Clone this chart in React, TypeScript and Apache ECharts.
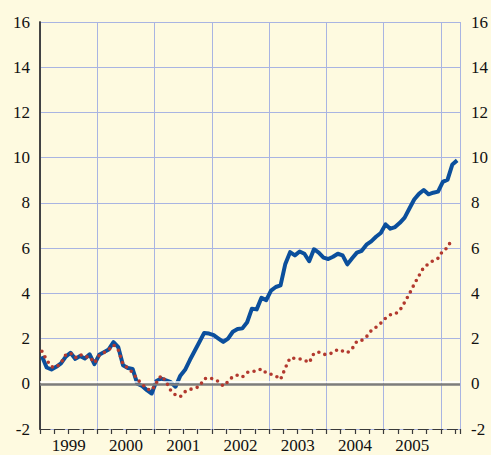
import React, { useEffect, useRef } from 'react';
import * as echarts from 'echarts';

// Year labels (centered in each year)
const years = ['1999', '2000', '2001', '2002', '2003', '2004', '2005'];
// Monthly values from Jan 1999
const blueValues = [
  1.22, 0.72, 0.63, 0.75, 0.9, 1.2, 1.37, 1.1, 1.23, 1.12, 1.3, 0.87,
  1.28, 1.4, 1.52, 1.84, 1.62, 0.82, 0.7, 0.66, 0.0, -0.1, -0.28, -0.43,
  0.12, 0.23, 0.15, 0.07, -0.13, 0.36, 0.62, 1.05, 1.45, 1.85, 2.25, 2.22,
  2.15, 2.0, 1.85, 2.0, 2.3, 2.42, 2.45, 2.72, 3.32, 3.29, 3.8, 3.7,
  4.12, 4.28, 4.35, 5.3, 5.82, 5.68, 5.85, 5.75, 5.42, 5.95, 5.8, 5.58,
  5.52, 5.62, 5.75, 5.68, 5.28, 5.55, 5.8, 5.88, 6.15, 6.3, 6.5, 6.67,
  7.05, 6.86, 6.93, 7.12, 7.35, 7.75, 8.15, 8.4, 8.57, 8.38, 8.45, 8.5,
  8.93, 9.03, 9.7, 9.88,
];
const redValues = [
  1.44, 1.05, 0.75, 0.73, 0.92, 1.28, 1.35, 1.15, 1.3, 1.18, 1.2, 0.92,
  1.25, 1.38, 1.5, 1.72, 1.5, 0.85, 0.7, 0.5, 0.2, -0.02, -0.22, -0.3,
  0.05, 0.37, 0.1, -0.3, -0.5, -0.57, -0.35, -0.25, -0.2, -0.12, 0.22, 0.27,
  0.2, 0.1, -0.1, 0.1, 0.32, 0.38, 0.3, 0.5, 0.55, 0.56, 0.66, 0.48,
  0.42, 0.35, 0.19, 0.7, 1.15, 1.12, 1.1, 1.05, 0.93, 1.35, 1.4, 1.3,
  1.3, 1.38, 1.52, 1.45, 1.37, 1.55, 1.88, 1.92, 2.08, 2.35, 2.5, 2.68,
  2.9, 3.05, 3.08, 3.25, 3.6, 3.98, 4.4, 4.78, 5.15, 5.3, 5.45, 5.55,
  5.88, 6.02, 6.45,
];
const yMin = -2;
const yMax = 16;
const yStep = 2;
const monthsShown = 88;

export default function App() {
  const ref = useRef<HTMLDivElement>(null);
  useEffect(() => {
    const chart = echarts.init(ref.current!, null, { renderer: 'svg' });
    const off = 0.4;
    const blueData = blueValues.map((v, i) => [i + off, v]);
    const redData = redValues.map((v, i) => [i + off, v]);
    const axisColor = '#3a3a3a';
    const gridColor = '#a9b4e2';
    const labelStyle = { fontSize: 17, color: '#111111', fontFamily: 'serif' };
    chart.setOption({
      animation: false,
      backgroundColor: '#fefae0',
      grid: { left: 40, right: 24, top: 22, bottom: 26, containLabel: false },
      xAxis: [
        {
          type: 'value', min: 0, max: monthsShown, interval: 3, position: 'bottom',
          axisLine: { show: true, onZero: false, lineStyle: { color: axisColor, width: 1.2, type: [10, 4.55] } },
          axisTick: { show: true, length: 5, lineStyle: { color: axisColor, width: 1.2 } },
          axisLabel: { show: false },
          splitLine: { show: false },
        },
        {
          type: 'value', min: 0, max: monthsShown, interval: 12, position: 'bottom',
          axisLine: { show: false }, axisTick: { show: false }, axisLabel: { show: false },
          splitLine: { show: true, lineStyle: { color: gridColor, width: 1 } },
        },
        {
          type: 'value', min: 0, max: monthsShown, interval: 6, position: 'bottom',
          axisLine: { show: false }, axisTick: { show: false }, splitLine: { show: false },
          axisLabel: {
            show: true, margin: 8, ...labelStyle,
            formatter: (v: number) => {
              const k = (v - 6) / 12;
              return Number.isInteger(k) && k >= 0 && k < years.length ? years[k] : '';
            },
          },
        },
      ],
      yAxis: [
        {
          type: 'value', min: yMin, max: yMax, interval: yStep, position: 'left',
          axisLine: { show: true, lineStyle: { color: axisColor, width: 1.5 } },
          axisTick: { show: false },
          axisLabel: { margin: 10, ...labelStyle },
          splitLine: { show: true, lineStyle: { color: gridColor, width: 1 } },
        },
        {
          type: 'value', min: yMin, max: yMax, interval: yStep, position: 'right',
          axisLine: { show: true, lineStyle: { color: axisColor, width: 1.5 } },
          axisTick: { show: false },
          axisLabel: { margin: 11, ...labelStyle },
          splitLine: { show: false },
        },
      ],
      series: [
        {
          type: 'line', xAxisIndex: 1, yAxisIndex: 0, data: [], z: 1,
          markLine: {
            silent: true, symbol: 'none', label: { show: false },
            data: [
              { yAxis: 0.09, lineStyle: { color: '#ffffff', width: 1.6, type: 'solid' } },
              { yAxis: 0, lineStyle: { color: '#7d7d7d', width: 2.5, type: 'solid' } },
            ],
          },
        },
        {
          type: 'line', xAxisIndex: 0, yAxisIndex: 0, data: blueData, symbol: 'none', z: 4,
          lineStyle: { color: '#0b4f9c', width: 4, join: 'round' },
        },
        {
          type: 'line', xAxisIndex: 0, yAxisIndex: 0, data: redData, symbol: 'none', z: 5,
          lineStyle: { color: '#b2392e', width: 3.6, type: [0, 6.4], cap: 'round' },
        },
      ],
    });
    return () => chart.dispose();
  }, []);
  return (
    <div
      ref={ref}
      style={{ position: 'fixed', left: 0, top: 0, width: 491, height: 455 }}
    />
  );
}
